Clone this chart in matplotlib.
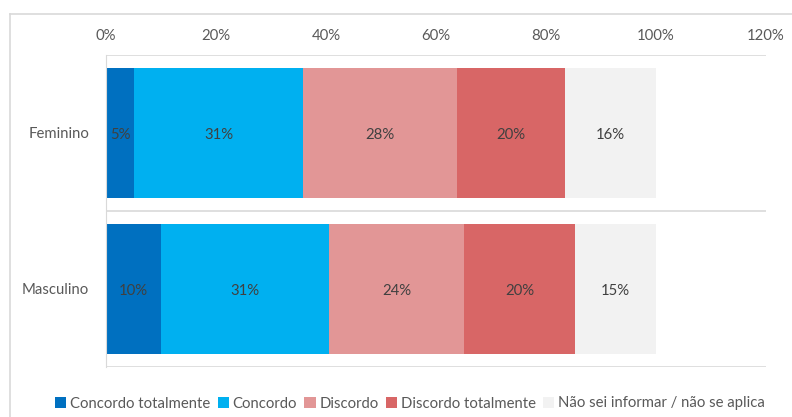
import numpy as np
import matplotlib
matplotlib.use("Agg")
from matplotlib import pyplot as plt
from matplotlib.lines import Line2D
from matplotlib.patches import Patch

plt.rcParams['font.family'] = ['Lato', 'DejaVu Sans']

categories = ["Masculino", "Feminino"]
series = ["Concordo totalmente", "Concordo", "Discordo", "Discordo totalmente",
          "Não sei informar / não se aplica"]
# values per series, order: Masculino, Feminino
concordo_totalmente = [10.0, 5.1]
concordo = [30.6, 30.8]
discordo = [24.5, 27.9]
discordo_totalmente = [20.2, 19.7]
nao_sei = [14.7, 16.5]
labels = [["10%", "5%"], ["31%", "31%"], ["24%", "28%"], ["20%", "20%"], ["15%", "16%"]]
ticks = [0, 20, 40, 60, 80, 100, 120]

colors = ["#0070C0", "#00B0F0", "#E29696", "#D86666", "#F2F2F2"]
text_gray = "#595959"
line_gray = "#D9D9D9"

values = [concordo_totalmente, concordo, discordo, discordo_totalmente, nao_sei]

W, H = 792, 417
fs = 10.7
fig = plt.figure(figsize=(W / 100, H / 100), dpi=100)
ax = fig.add_axes([106 / W, 1 - 367 / H, 660 / W, 312 / H])

y = np.arange(len(categories))
left = np.zeros(len(categories))
for i, vals in enumerate(values):
    vals = np.array(vals)
    ax.barh(y, vals, left=left, height=0.83, color=colors[i], label=series[i])
    for j in range(len(categories)):
        ax.text(left[j] + vals[j] / 2, y[j] - 0.01, labels[i][j], ha="center", va="center",
                fontsize=fs, color="#404040")
    left = left + vals

ax.set_xlim(0, 120)
ax.set_ylim(-0.5, 1.5)
ax.set_xticks(ticks)
ax.set_xticklabels([f"{t}%" for t in ticks])
ax.xaxis.tick_top()
ax.set_yticks(y)
ax.set_yticklabels(categories)
ax.tick_params(axis="x", length=0, pad=8.5, labelsize=fs, labelcolor=text_gray)
ax.tick_params(axis="y", length=0, pad=12, labelsize=fs, labelcolor=text_gray)

for s in ["top", "right", "bottom"]:
    ax.spines[s].set_visible(False)
ax.spines["left"].set_color(line_gray)
for yy in [-0.5, 0.5, 1.5]:
    ax.axhline(yy, color=line_gray, linewidth=1.2, zorder=0)

# outer chart frame
fig.add_artist(Line2D([9.5 / W, 1], [1 - 14 / H, 1 - 14 / H], color=line_gray, lw=1.2))
fig.add_artist(Line2D([9.5 / W, 9.5 / W], [0, 1 - 14 / H], color=line_gray, lw=1.2))

handles = [Patch(facecolor=c) for c in colors]
fig.legend(handles, series, loc="center", bbox_to_anchor=(410 / W, 1 - 403.5 / H), ncol=5,
           frameon=False, fontsize=fs, labelcolor=text_gray, handlelength=0.75,
           handleheight=0.75, handletextpad=0.25, columnspacing=0.5)

fig.savefig("out.png", dpi=100)
